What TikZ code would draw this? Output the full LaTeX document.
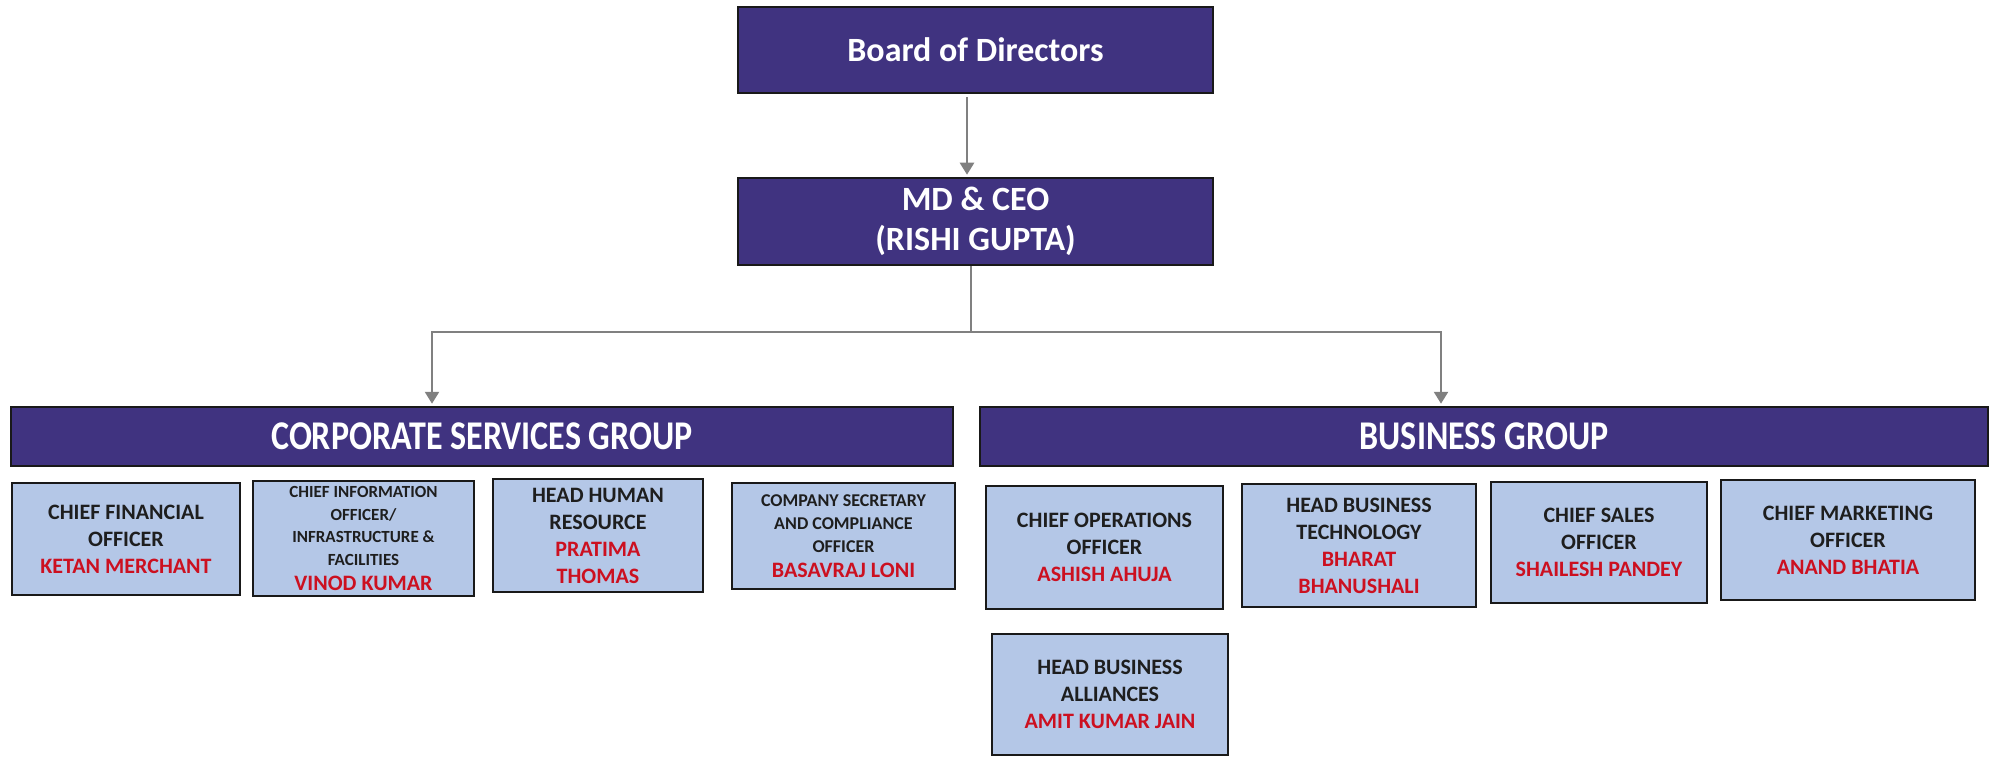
\documentclass[tikz,border=0pt]{standalone}
\usepackage{fontspec}
\usepackage{graphicx}
\setmainfont{Carlito}
\usetikzlibrary{arrows.meta}
\definecolor{purp}{RGB}{64,51,128}
\definecolor{lblue}{RGB}{180,199,231}
\definecolor{nred}{RGB}{204,16,32}
\definecolor{arrgray}{RGB}{128,128,128}
\definecolor{bord}{RGB}{25,25,25}
\definecolor{ttl}{RGB}{30,30,30}
\tikzset{
  pbox/.style={draw=bord, line width=2.5pt, fill=purp, text=white,
    font=\fontsize{34}{40}\selectfont\bfseries, align=center, inner sep=0pt},
  sbox/.style={draw=bord, line width=2.5pt, fill=lblue, text=ttl,
    font=\fontsize{22}{27}\selectfont\bfseries, align=center, inner sep=0pt},
  conn/.style={draw=arrgray, line width=2.5pt},
  arr/.style={conn, -{Triangle[width=14pt,length=12pt]}, shorten >=2pt},
}
\newcommand{\nm}[1]{\textcolor{nred}{#1}}
\begin{document}
\begin{tikzpicture}
\useasboundingbox (0pt,0pt) rectangle (1995pt,-757pt);
% top boxes
\node[pbox, minimum width=475pt, minimum height=86pt] (board) at (975.5pt,-50pt) {Board of Directors};
\node[pbox, minimum width=475pt, minimum height=87pt] (ceo) at (975.5pt,-221.5pt) {MD \& CEO\\(RISHI GUPTA)};
% group bars
\node[pbox, minimum width=942pt, minimum height=59pt] (corp) at (482pt,-436.5pt) {\scalebox{1}[1.2]{CORPORATE SERVICES GROUP}};
\node[pbox, minimum width=1008pt, minimum height=59pt] (bus) at (1484pt,-436.5pt) {\scalebox{1}[1.2]{BUSINESS GROUP}};
% corporate services boxes
\node[sbox, minimum width=228pt, minimum height=112pt] (cfo) at (126pt,-539pt) {CHIEF FINANCIAL\\OFFICER\\\nm{KETAN MERCHANT}};
\node[sbox, font=\fontsize{17}{22.5}\selectfont\bfseries, minimum width=221pt, minimum height=115pt] (cio) at (363.5pt,-538.5pt) {CHIEF INFORMATION\\OFFICER/\\INFRASTRUCTURE \&\\FACILITIES\\[2.5pt]\fontsize{22}{27}\selectfont\nm{VINOD KUMAR}};
\node[sbox, minimum width=210pt, minimum height=113pt] (hr) at (598pt,-535.5pt) {HEAD HUMAN\\RESOURCE\\\nm{PRATIMA}\\\nm{THOMAS}};
\node[sbox, font=\fontsize{18}{23}\selectfont\bfseries, minimum width=223pt, minimum height=106pt] (cs) at (843.5pt,-536pt) {COMPANY SECRETARY\\AND COMPLIANCE\\OFFICER\\[2pt]\fontsize{22}{27}\selectfont\nm{BASAVRAJ LONI}};
% business boxes
\node[sbox, minimum width=237pt, minimum height=123pt] (coo) at (1104.5pt,-547.5pt) {CHIEF OPERATIONS\\OFFICER\\\nm{ASHISH AHUJA}};
\node[sbox, minimum width=234pt, minimum height=123pt] (hbt) at (1359pt,-545.5pt) {HEAD BUSINESS\\TECHNOLOGY\\\nm{BHARAT}\\\nm{BHANUSHALI}};
\node[sbox, minimum width=216pt, minimum height=121pt] (cso) at (1599pt,-542.5pt) {CHIEF SALES\\OFFICER\\\nm{SHAILESH PANDEY}};
\node[sbox, minimum width=254pt, minimum height=120pt] (cmo) at (1848pt,-540pt) {CHIEF MARKETING\\OFFICER\\\nm{ANAND BHATIA}};
\node[sbox, minimum width=236pt, minimum height=121pt] (hba) at (1110pt,-694.5pt) {HEAD BUSINESS\\ALLIANCES\\\nm{AMIT KUMAR JAIN}};
% connectors
\draw[arr] ([xshift=-8.5pt,yshift=-3pt]board.south) -- ([xshift=-8.5pt]ceo.north);
\coordinate (j) at (971pt,-332pt);
\draw[conn] ([xshift=-4.5pt]ceo.south) -- (j);
\draw[arr] (j) -| ([xshift=-50pt]corp.north);
\draw[arr] (j) -| ([xshift=-43pt]bus.north);
\end{tikzpicture}
\end{document}
